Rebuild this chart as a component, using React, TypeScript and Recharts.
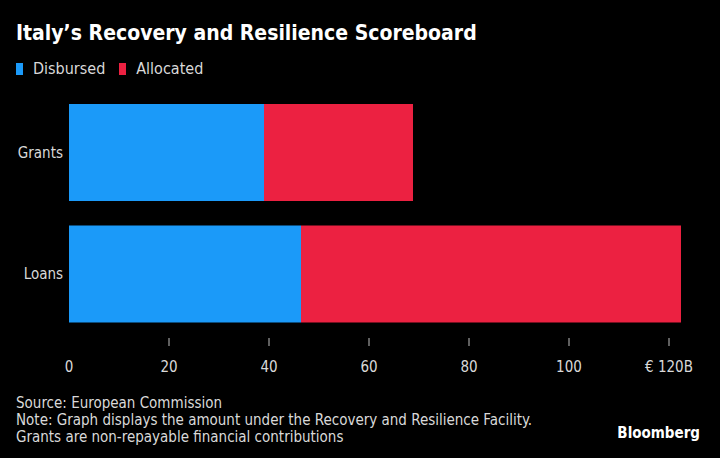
import React from 'react';
import { BarChart, Bar, XAxis, YAxis } from 'recharts';

const categories = ['Grants', 'Loans'];
const disbursed = [39, 46.4];
const allocated = [29.8, 76];
const xTicks = [0, 20, 40, 60, 80, 100, 120];
const xTickLabels = ['0', '20', '40', '60', '80', '100', '€ 120B'];

const data = categories.map((name, i) => ({
  name,
  Disbursed: disbursed[i],
  Allocated: allocated[i],
}));

const FONT = '"DejaVu Sans Condensed", "DejaVu Sans", sans-serif';
const BLUE = '#1b9af9';
const RED = '#ec2141';
const TEXT = '#d9d9d9';

const XTick = ({ x, y, payload, index }: any) => (
  <g>
    {index > 0 && <line x1={x} x2={x} y1={y + 3} y2={y + 11} stroke="#bfbfbf" strokeWidth={1} />}
    <text x={x} y={y + 37} textAnchor="middle" fill={TEXT} fontSize={15} fontFamily={FONT}>
      {xTickLabels[xTicks.indexOf(payload.value)]}
    </text>
  </g>
);

const YTick = ({ x, y, payload }: any) => (
  <text x={x} y={y} dy={5} textAnchor="end" fill={TEXT} fontSize={15} fontFamily={FONT}>
    {payload.value}
  </text>
);

export default function App() {
  return (
    <div
      style={{
        position: 'absolute',
        left: 0,
        top: 0,
        width: 720,
        height: 458,
        background: '#000',
        fontFamily: FONT,
        overflow: 'hidden',
      }}
    >
      <div style={{ position: 'absolute', left: 16, top: 21, color: '#fff', fontSize: 21, fontWeight: 'bold' }}>
        Italy’s Recovery and Resilience Scoreboard
      </div>
      <div style={{ position: 'absolute', left: 16, top: 59, display: 'flex', alignItems: 'center', fontSize: 16, color: TEXT }}>
        <span style={{ width: 7, height: 12, background: BLUE, marginRight: 10, display: 'inline-block' }} />
        <span style={{ marginRight: 14 }}>Disbursed</span>
        <span style={{ width: 7, height: 12, background: RED, marginRight: 10, display: 'inline-block' }} />
        <span>Allocated</span>
      </div>

      <div style={{ position: 'absolute', left: 0, top: 0 }}>
        <BarChart
          width={720}
          height={400}
          data={data}
          layout="vertical"
          margin={{ top: 92, right: 31, bottom: 15, left: 0 }}
          barSize={97}
        >
          <XAxis
            type="number"
            domain={[0, 124]}
            ticks={xTicks}
            axisLine={false}
            tickLine={false}
            tickSize={0}
            tickMargin={0}
            height={50}
            interval={0}
            tick={<XTick />}
          />
          <YAxis
            type="category"
            dataKey="name"
            width={69}
            axisLine={false}
            tickLine={false}
            tickSize={0}
            tickMargin={6}
            tick={<YTick />}
          />
          <Bar dataKey="Disbursed" stackId="a" fill={BLUE} isAnimationActive={false} />
          <Bar dataKey="Allocated" stackId="a" fill={RED} isAnimationActive={false} />
        </BarChart>
      </div>

      <div style={{ position: 'absolute', left: 16, top: 395, fontSize: 15, lineHeight: '17px', color: TEXT }}>
        <div>Source: European Commission</div>
        <div>Note: Graph displays the amount under the Recovery and Resilience Facility.</div>
        <div>Grants are non-repayable financial contributions</div>
      </div>
      <div style={{ position: 'absolute', right: 20, top: 424, fontSize: 15, fontWeight: 'bold', color: '#fff' }}>
        Bloomberg
      </div>
    </div>
  );
}
